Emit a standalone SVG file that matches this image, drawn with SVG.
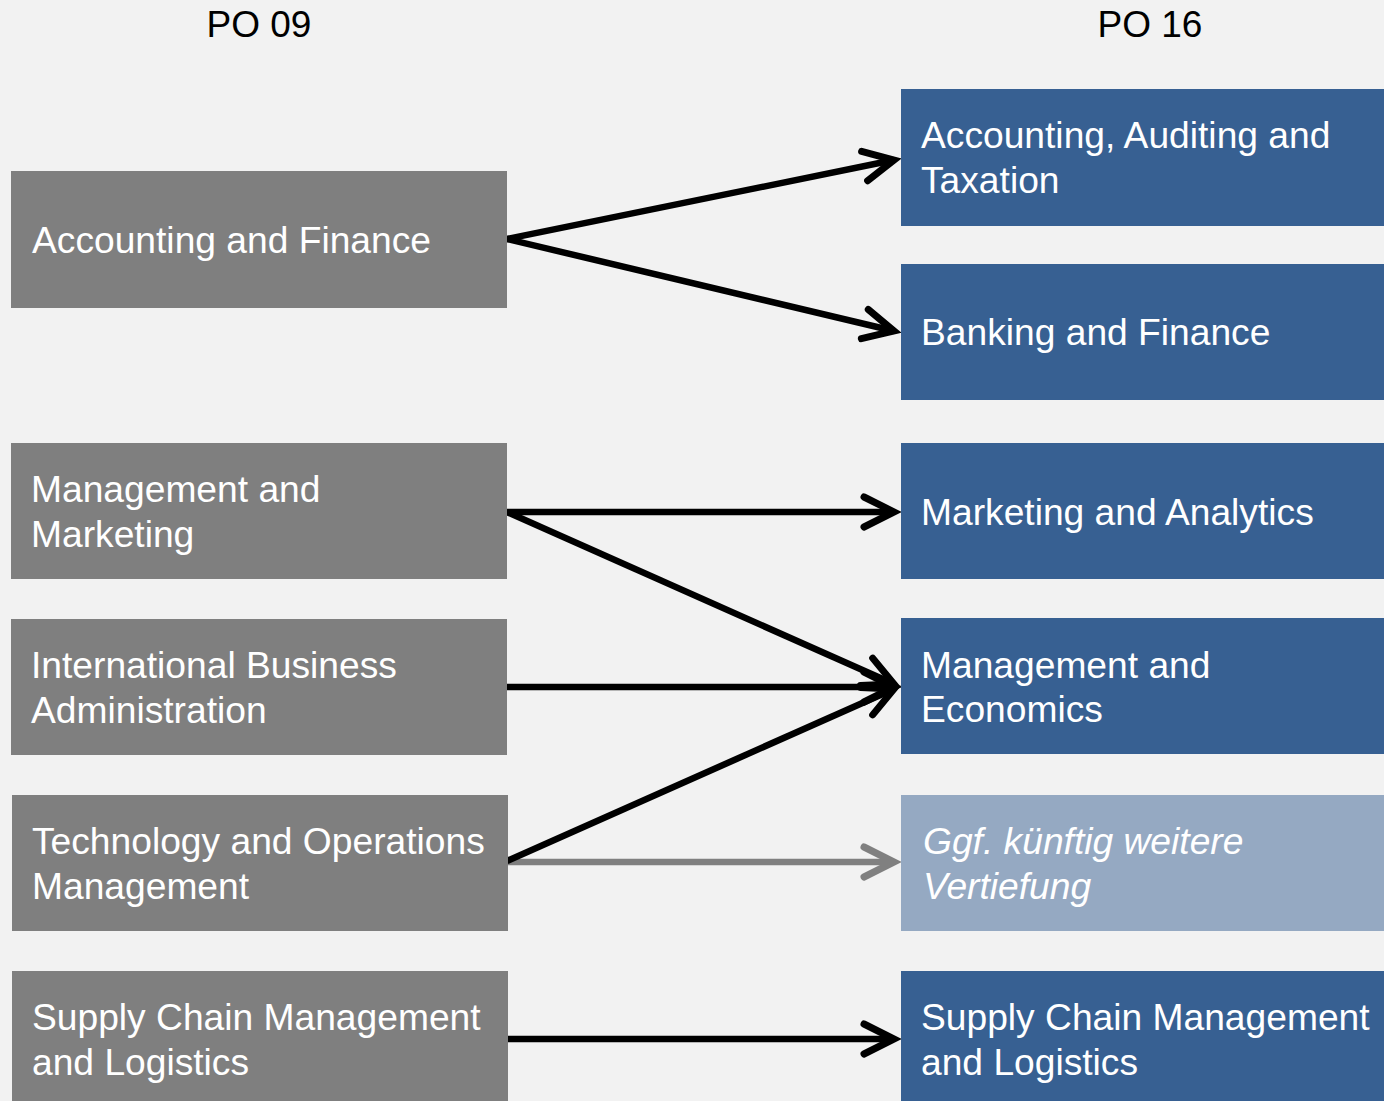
<svg xmlns="http://www.w3.org/2000/svg" width="1384" height="1101" viewBox="0 0 1384 1101">
  <style>
    .old { fill: #7f7f7f; }
    .new { fill: #376092; }
    .future { fill: #95a9c2; }
    .label { font-family: "Liberation Sans", Arial, sans-serif; font-size: 37.2px; fill: #ffffff; }
    .head { font-family: "Liberation Sans", Arial, sans-serif; font-size: 37px; fill: #000000; text-anchor: middle; }
    .em { font-style: italic; }
    .link { fill: none; stroke: #000000; stroke-width: 6.5; }
    .link.pending { stroke: #808080; }
  </style>
  <defs>
    <marker id="chevron" markerUnits="userSpaceOnUse" viewBox="-40 -22 48 44" refX="0" refY="0" markerWidth="48" markerHeight="44" orient="auto" overflow="visible">
      <path d="M -30 -15 L 0 0 L -30 15" fill="none" stroke="#000000" stroke-width="7" stroke-linecap="round" stroke-linejoin="miter"/>
    </marker>
    <marker id="chevron-grey" markerUnits="userSpaceOnUse" viewBox="-40 -22 48 44" refX="0" refY="0" markerWidth="48" markerHeight="44" orient="auto" overflow="visible">
      <path d="M -30 -15 L 0 0 L -30 15" fill="none" stroke="#808080" stroke-width="7" stroke-linecap="round" stroke-linejoin="miter"/>
    </marker>
  </defs>

  <rect x="0" y="0" width="1384" height="1101" fill="#f2f2f2"/>

  <!-- column headings -->
  <text class="head" x="259" y="37">PO 09</text>
  <text class="head" x="1150" y="37">PO 16</text>

  <!-- connectors -->
  <g id="connectors">
    <line class="link" x1="507" y1="239" x2="894" y2="160" marker-end="url(#chevron)"/>
    <line class="link" x1="507" y1="239" x2="894" y2="331" marker-end="url(#chevron)"/>
    <line class="link" x1="507" y1="512" x2="894" y2="512" marker-end="url(#chevron)"/>
    <line class="link" x1="507" y1="512" x2="894" y2="684" marker-end="url(#chevron)"/>
    <line class="link" x1="507" y1="687" x2="894" y2="687" marker-end="url(#chevron)"/>
    <line class="link pending" x1="507" y1="862" x2="894" y2="862" marker-end="url(#chevron-grey)"/>
    <line class="link" x1="507" y1="861" x2="894" y2="689" marker-end="url(#chevron)"/>
    <line class="link" x1="507" y1="1039" x2="894" y2="1039" marker-end="url(#chevron)"/>
  </g>

  <!-- PO 09 programmes -->
  <g id="po09-accounting-finance">
    <rect class="old" x="11" y="171" width="496" height="137"/>
    <text class="label" x="32" y="253">Accounting and Finance</text>
  </g>
  <g id="po09-management-marketing">
    <rect class="old" x="11" y="443" width="496" height="136"/>
    <text class="label" x="31" y="502">Management and</text>
    <text class="label" x="31" y="547">Marketing</text>
  </g>
  <g id="po09-international-business">
    <rect class="old" x="11" y="619" width="496" height="136"/>
    <text class="label" x="31" y="678">International Business</text>
    <text class="label" x="31" y="723">Administration</text>
  </g>
  <g id="po09-technology-operations">
    <rect class="old" x="12" y="795" width="496" height="136"/>
    <text class="label" x="32" y="854">Technology and Operations</text>
    <text class="label" x="32" y="899">Management</text>
  </g>
  <g id="po09-supply-chain">
    <rect class="old" x="12" y="971" width="496" height="130"/>
    <text class="label" x="32" y="1030">Supply Chain Management</text>
    <text class="label" x="32" y="1075">and Logistics</text>
  </g>

  <!-- PO 16 specialisations -->
  <g id="po16-accounting-auditing">
    <rect class="new" x="901" y="89" width="483" height="137"/>
    <text class="label" x="921" y="148">Accounting, Auditing and</text>
    <text class="label" x="921" y="193">Taxation</text>
  </g>
  <g id="po16-banking-finance">
    <rect class="new" x="901" y="264" width="483" height="136"/>
    <text class="label" x="921" y="345">Banking and Finance</text>
  </g>
  <g id="po16-marketing-analytics">
    <rect class="new" x="901" y="443" width="483" height="136"/>
    <text class="label" x="921" y="525">Marketing and Analytics</text>
  </g>
  <g id="po16-management-economics">
    <rect class="new" x="901" y="618" width="483" height="136"/>
    <text class="label" x="921" y="678">Management and</text>
    <text class="label" x="921" y="722">Economics</text>
  </g>
  <g id="po16-future">
    <rect class="future" x="901" y="795" width="483" height="136"/>
    <text class="label em" x="923" y="854">Ggf. künftig weitere</text>
    <text class="label em" x="923" y="899">Vertiefung</text>
  </g>
  <g id="po16-supply-chain">
    <rect class="new" x="901" y="971" width="483" height="130"/>
    <text class="label" x="921" y="1030">Supply Chain Management</text>
    <text class="label" x="921" y="1075">and Logistics</text>
  </g>
</svg>
